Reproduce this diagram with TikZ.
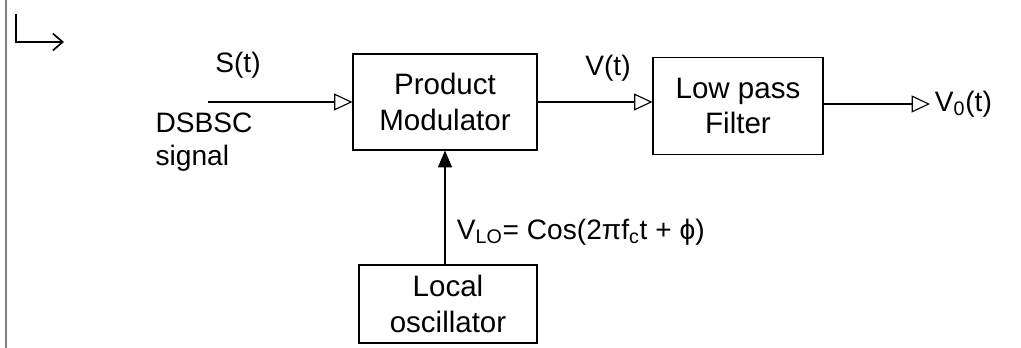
\documentclass[tikz,border=0pt]{standalone}
\usepackage{fontspec}
\setmainfont{Liberation Sans}
\usetikzlibrary{arrows.meta}
\begin{document}
\begin{tikzpicture}[
    block/.style={draw, thick, minimum width=#1, align=center, font=\fontsize{21}{25}\selectfont},
    lbl/.style={font=\fontsize{20}{24}\selectfont},
    sig/.style={thick, -{Triangle[open, length=13pt, width=12pt]}}
  ]
    % Page size and margin line
    \useasboundingbox (0,0) rectangle (25.525,-8.7);
    \draw[thick, gray] (0.15,0) -- (0.15,-8.7);

    % Corner arrow
    \coordinate (c1) at (0.4,-0.35);
    \coordinate (c2) at (0.4,-1.05);
    \coordinate (c3) at (1.6,-1.05);
    \draw[very thick, -{Straight Barb[length=7pt, width=12pt]}] (c1) -- (c2) -- (c3);

    % Draw blocks
    \node[block=4.6cm, minimum height=2.4cm] (PM) at (11.125,-2.55) {Product\\Modulator};
    \node[block=4.25cm, minimum height=2.425cm] (LPF) at (18.45,-2.65) {Low pass\\Filter};
    \node[block=4.45cm, minimum height=1.95cm] (LO) at (11.2,-7.6) {Local\\oscillator};

    % Input and output ends
    \coordinate (in) at (5.2,-2.55);
    \coordinate (out) at (23.25,-2.6);

    % Draw signal lines
    \draw[sig] (in) -- (PM.west);
    \draw[sig] (PM.east) -- (PM.east -| LPF.west);
    \draw[sig] (LPF.east |- out) -- (out);
    \draw[thick, -{Triangle[length=12pt, width=10pt]}] (LO.north -| PM.south) -- (PM.south);

    % Labels
    \node[lbl] (st) at (5.95,-1.625) {S(t)};
    \node[lbl, align=left] (dsb) at (5.1,-3.55) {DSBSC\\signal};
    \node[lbl] (vt) at (15.2,-1.7) {V(t)};
    \node[lbl, anchor=west] (vo) at (out) {V\textsubscript{0}(t)};
    \node[lbl, anchor=west] (vlo) at (11.3,-5.8) {V\textsubscript{LO}= Cos(2πf\textsubscript{c}t + ϕ)};
  \end{tikzpicture}
\end{document}
